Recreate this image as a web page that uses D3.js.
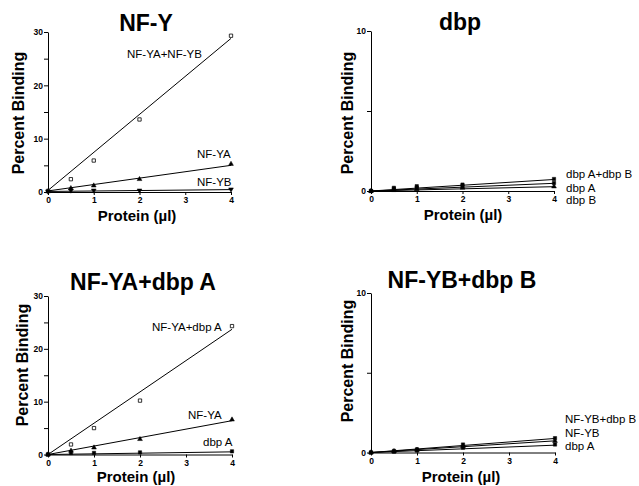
<!DOCTYPE html>
<html>
<head>
<meta charset="utf-8">
<script src="https://cdn.jsdelivr.net/npm/d3@7"></script>
<style>
  body { margin: 0; background: #fff; }
  svg { font-family: "Liberation Sans", Arial, sans-serif; }
  .axis path, .axis line { stroke: #000; stroke-width: 1; }
  .axis text { font-size: 8.5px; font-weight: bold; fill: #000; }
  .title { font-size: 23px; font-weight: bold; }
  .ylab { font-size: 16px; font-weight: bold; }
  .xlab { font-size: 15px; font-weight: bold; }
  .slab { font-size: 11.5px; }
</style>
</head>
<body>
<script>
// Shared x values (protein, ul) and tick labels
var doses = [0, 0.5, 1, 2, 4];
var fitX = [0, 4];
var xTicks = [0, 1, 2, 3, 4];
var yTicks30 = [0, 5, 10, 15, 20, 25, 30];
var yTicks10 = [0, 5, 10];

// Panel 1: NF-Y
var nfyABVals = [0.2, 2.4, 5.9, 13.6, 29.3];
var nfyABFit = [0.3, 28.8];
var nfyAVals = [0.1, 0.7, 1.2, 2.4, 5.25];
var nfyAFit = [0.2, 5.0];
var nfyBVals = [0.1, 0.3, 0.3, 0.3, 0.5];
var nfyBFit = [0.1, 0.45];

// Panel 2: dbp
var dbpABVals = [0, 0.2, 0.3, 0.4, 0.75];
var dbpABFit = [0, 0.72];
var dbpAVals = [0, 0.12, 0.2, 0.3, 0.5];
var dbpAFit = [0, 0.48];
var dbpBVals = [0, 0.05, 0.1, 0.2, 0.28];
var dbpBFit = [0, 0.27];

// Panel 3: NF-YA+dbp A
var yaDbpAVals = [0, 1.9, 5.0, 10.2, 24.3];
var yaDbpAFit = [0, 23.7];
var yaOnlyVals = [0, 0.7, 1.3, 2.9, 6.6];
var yaOnlyFit = [0, 6.4];
var dbpAOnlyVals = [0, 0.3, 0.3, 0.4, 0.6];
var dbpAOnlyFit = [0, 0.5];

// Panel 4: NF-YB+dbp B
var ybDbpBVals = [0, 0.1, 0.2, 0.5, 0.9];
var ybDbpBFit = [0, 0.88];
var ybOnlyVals = [0, 0.08, 0.17, 0.4, 0.72];
var ybOnlyFit = [0, 0.73];
var dbpA2Vals = [0, 0.05, 0.12, 0.3, 0.5];
var dbpA2Fit = [0, 0.46];

var panels = [
  { title: "NF-Y", x0: 48, x1: 231, y0: 192, yTop: 32, yMax: 30, yTicks: yTicks30,
    titleX: 146, titleY: 31, yLabX: 18, yLabY: 113, xLabX: 137, xLabY: 221,
    series: [
      { name: "NF-YA+NF-YB", vals: nfyABVals, fit: nfyABFit, sym: "open", lx: 127, ly: 58 },
      { name: "NF-YA", vals: nfyAVals, fit: nfyAFit, sym: "tri", lx: 197, ly: 158 },
      { name: "NF-YB", vals: nfyBVals, fit: nfyBFit, sym: "itri", lx: 197, ly: 186 }
    ] },
  { title: "dbp", x0: 371, x1: 554, y0: 191, yTop: 31, yMax: 10, yTicks: yTicks10,
    titleX: 460, titleY: 30, yLabX: 347, yLabY: 113, xLabX: 463, xLabY: 220,
    series: [
      { name: "dbp A+dbp B", vals: dbpABVals, fit: dbpABFit, sym: "sq", lx: 566, ly: 178 },
      { name: "dbp A", vals: dbpAVals, fit: dbpAFit, sym: "sq", lx: 566, ly: 191.5 },
      { name: "dbp B", vals: dbpBVals, fit: dbpBFit, sym: "tri", lx: 566, ly: 204 }
    ] },
  { title: "NF-YA+dbp A", x0: 48, x1: 232, y0: 454.5, yTop: 296, yMax: 30, yTicks: yTicks30,
    titleX: 143, titleY: 290, yLabX: 22, yLabY: 365, xLabX: 136, xLabY: 482,
    series: [
      { name: "NF-YA+dbp A", vals: yaDbpAVals, fit: yaDbpAFit, sym: "open", lx: 152, ly: 331 },
      { name: "NF-YA", vals: yaOnlyVals, fit: yaOnlyFit, sym: "tri", lx: 188, ly: 419 },
      { name: "dbp A", vals: dbpAOnlyVals, fit: dbpAOnlyFit, sym: "sq", lx: 203, ly: 446 }
    ] },
  { title: "NF-YB+dbp B", x0: 371, x1: 555, y0: 452.5, yTop: 293, yMax: 10, yTicks: yTicks10,
    titleX: 462, titleY: 288, yLabX: 347, yLabY: 361, xLabX: 461, xLabY: 482,
    series: [
      { name: "NF-YB+dbp B", vals: ybDbpBVals, fit: ybDbpBFit, sym: "sq", lx: 565, ly: 423 },
      { name: "NF-YB", vals: ybOnlyVals, fit: ybOnlyFit, sym: "tri", lx: 565, ly: 437 },
      { name: "dbp A", vals: dbpA2Vals, fit: dbpA2Fit, sym: "sq", lx: 565, ly: 450 }
    ] }
];

var svg = d3.select("body").append("svg")
    .attr("width", 639)
    .attr("height", 486);

var symSq = d3.symbol().type(d3.symbolSquare).size(11)();
var symTri = d3.symbol().type(d3.symbolTriangle).size(10)();

panels.forEach(function(p) {
  var x = d3.scaleLinear().domain([0, 4]).range([p.x0, p.x1]);
  var y = d3.scaleLinear().domain([0, p.yMax]).range([p.y0, p.yTop]);
  var g = svg.append("g");

  // Axes
  g.append("g")
      .attr("class", "axis")
      .attr("transform", "translate(0," + p.y0 + ")")
      .call(d3.axisBottom(x).tickValues(xTicks).tickSize(3).tickSizeOuter(0)
        .tickPadding(2).tickFormat(d3.format("d")));

  g.append("g")
      .attr("class", "axis")
      .attr("transform", "translate(" + p.x0 + ",0)")
      .call(d3.axisLeft(y).tickValues(p.yTicks).tickSize(4).tickSizeOuter(0)
        .tickPadding(1).tickFormat(function(d) { return d % 10 === 0 ? d : ""; }));

  // Fit lines, markers and labels
  var line = d3.line()
      .x(function(d, i) { return x(fitX[i]); })
      .y(function(d) { return y(d); });

  p.series.forEach(function(s) {
    g.append("path")
        .datum(s.fit)
        .attr("d", line)
        .attr("fill", "none")
        .attr("stroke", "#000")
        .attr("stroke-width", 1);

    g.selectAll(null)
        .data(s.vals)
        .enter().append("path")
        .attr("d", s.sym === "tri" || s.sym === "itri" ? symTri : symSq)
        .attr("transform", function(d, i) {
          return "translate(" + x(doses[i]) + "," + y(d) + ")" + (s.sym === "itri" ? " rotate(180)" : "");
        })
        .attr("fill", s.sym === "open" ? "#fff" : "#000")
        .attr("stroke", "#000")
        .attr("stroke-width", s.sym === "open" ? 0.8 : 0.5);

    g.append("text")
        .attr("class", "slab")
        .attr("x", s.lx)
        .attr("y", s.ly)
        .text(s.name);
  });

  // Titles
  g.append("text")
      .attr("class", "title")
      .attr("x", p.titleX)
      .attr("y", p.titleY)
      .attr("text-anchor", "middle")
      .text(p.title);

  g.append("text")
      .attr("class", "ylab")
      .attr("transform", "translate(" + (p.yLabX + 6) + "," + p.yLabY + ") rotate(-90)")
      .attr("text-anchor", "middle")
      .text("Percent Binding");

  g.append("text")
      .attr("class", "xlab")
      .attr("x", p.xLabX)
      .attr("y", p.xLabY)
      .attr("text-anchor", "middle")
      .text("Protein (\u00b5l)");
});
</script>
</body>
</html>
